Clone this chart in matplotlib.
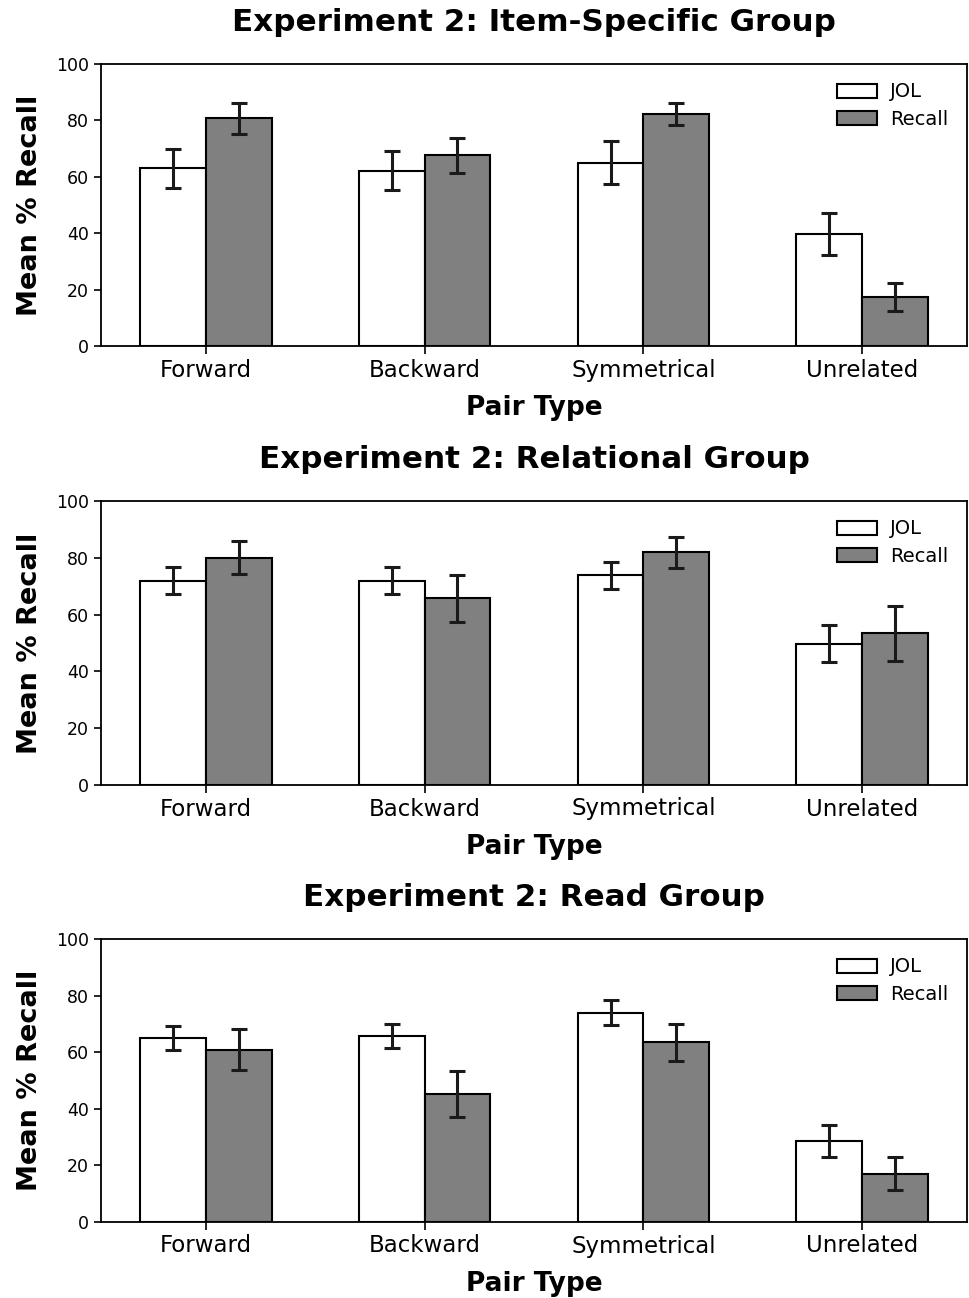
import matplotlib
matplotlib.use("Agg")
import matplotlib.pyplot as plt
import numpy as np

categories = ["Forward", "Backward", "Symmetrical", "Unrelated"]
titles = ["Experiment 2: Item-Specific Group",
          "Experiment 2: Relational Group",
          "Experiment 2: Read Group"]

jol_item = [63.0, 62.2, 65.0, 39.7]
jol_item_err = [6.8, 6.9, 7.6, 7.5]
recall_item = [80.7, 67.7, 82.3, 17.5]
recall_item_err = [5.6, 6.2, 3.8, 5.0]

jol_rel = [71.9, 71.9, 73.8, 49.8]
jol_rel_err = [4.7, 4.7, 4.8, 6.5]
recall_rel = [80.0, 65.7, 82.0, 53.4]
recall_rel_err = [5.75, 8.2, 5.5, 9.6]

jol_read = [65.0, 65.7, 74.0, 28.6]
jol_read_err = [4.1, 4.1, 4.5, 5.8]
recall_read = [60.9, 45.2, 63.5, 17.1]
recall_read_err = [7.2, 8.2, 6.5, 5.8]

panels = [
    (jol_item, jol_item_err, recall_item, recall_item_err),
    (jol_rel, jol_rel_err, recall_rel, recall_rel_err),
    (jol_read, jol_read_err, recall_read, recall_read_err),
]

fig = plt.figure(figsize=(9.69, 12.98), dpi=100)
left = 101 / 969
width = (967 - 101) / 969
tops = [64, 501, 939]
bottoms = [346, 785, 1222]
H = 1298

width_bar = 0.3
x = np.arange(len(categories))
err_kw = dict(ecolor="#1a1a1a", elinewidth=2.2, capsize=6, capthick=2.2)

for i, (jol, jerr, rec, rerr) in enumerate(panels):
    ax = fig.add_axes([left, 1 - bottoms[i] / H, width, (bottoms[i] - tops[i]) / H])
    ax.bar(x - width_bar / 2, jol, width_bar, yerr=jerr, color="white",
           edgecolor="black", linewidth=1.5, label="JOL", error_kw=err_kw)
    ax.bar(x + width_bar / 2, rec, width_bar, yerr=rerr, color="#808080",
           edgecolor="black", linewidth=1.5, label="Recall", error_kw=err_kw)
    ax.set_ylim(0, 100)
    ax.set_yticks([0, 20, 40, 60, 80, 100])
    ax.set_xticks(x)
    ax.set_xticklabels(categories, fontsize=16.5)
    ax.tick_params(axis="y", labelsize=12.5, length=5, width=1.2)
    ax.tick_params(axis="x", length=6, width=1.2, pad=3)
    for s in ax.spines.values():
        s.set_linewidth(1.3)
    ax.set_ylabel("Mean % Recall", fontsize=19.5, fontweight="bold", labelpad=9.5)
    ax.set_xlabel("Pair Type", fontsize=19, fontweight="bold", labelpad=10)
    ax.set_title(titles[i], fontsize=22.3, fontweight="bold", pad=24)
    ax.legend(loc="upper right", frameon=False, fontsize=14,
              handlelength=2.05, handleheight=0.72, borderaxespad=0.55,
              labelspacing=0.45, handletextpad=0.7)

fig.savefig("out.png", dpi=100)
